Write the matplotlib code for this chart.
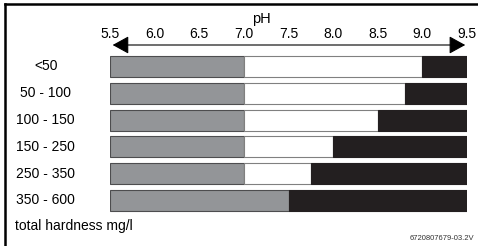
import matplotlib.pyplot as plt
import matplotlib.transforms as mtransforms
from matplotlib.lines import Line2D

plt.rcParams['font.family'] = ['Liberation Sans', 'DejaVu Sans']

# total hardness classes (top to bottom) and pH ranges
hardness = ['<50', '50 - 100', '100 - 150', '150 - 250', '250 - 350', '350 - 600']
gray_end = [7.0, 7.0, 7.0, 7.0, 7.0, 7.5]
black_start = [9.0, 8.8, 8.5, 8.0, 7.75, 7.5]
ph_min, ph_max = 5.5, 9.5
ph_ticks = [5.5, 6.0, 6.5, 7.0, 7.5, 8.0, 8.5, 9.0, 9.5]

GRAY = '#939598'
BLACK = '#231f20'

W, H = 478, 246
fig = plt.figure(figsize=(W / 100, H / 100), dpi=100)

# axes placed in pixel terms
left, right = 110, 467
top, bottom = 53.1, 213.9
ax = fig.add_axes([left / W, 1 - bottom / H, (right - left) / W, (bottom - top) / H])
ax.set_xlim(ph_min, ph_max)
ax.set_ylim(len(hardness) - 0.5, -0.5)
for s in ax.spines.values():
    s.set_visible(False)
ax.set_yticks([])

bh = 0.78
for i, name in enumerate(hardness):
    g = gray_end[i]
    b = black_start[i]
    ax.barh(i, g - ph_min, left=ph_min, height=bh, color=GRAY, edgecolor='#4d4d4f', lw=0.8)
    if b > g:
        ax.barh(i, b - g, left=g, height=bh, color='white', edgecolor='#808080', lw=0.8)
    ax.barh(i, ph_max - b, left=b, height=bh, color=BLACK, edgecolor=BLACK, lw=0.8)
    ax.text(4.78, i, name, ha='center', va='center', fontsize=10, clip_on=False)

# pH scale on top
ax.xaxis.tick_top()
ax.set_xticks(ph_ticks)
ax.set_xticklabels([f'{t:.1f}' for t in ph_ticks], fontsize=10)
ax.tick_params(axis='x', length=0, pad=8.5)

trans = mtransforms.blended_transform_factory(ax.transData, ax.transAxes)
ay = 1 + (top - 45) / (bottom - top)
ax.annotate('', xy=(ph_max - 0.02, ay), xytext=(ph_min + 0.03, ay),
            xycoords=trans, textcoords=trans, annotation_clip=False,
            arrowprops=dict(arrowstyle='<|-|>,head_length=1.0,head_width=0.55',
                            color='black', lw=0.8, shrinkA=0, shrinkB=0))
ax.text(7.2, 1 + (top - 19) / (bottom - top), 'pH', transform=trans,
        ha='center', va='center', fontsize=10.5)

fig.text(15 / W, 1 - 226 / H, 'total hardness mg/l', ha='left', va='center', fontsize=10)
fig.text(474 / W, 1 - 238 / H, '6720807679-03.2V', ha='right', va='center',
         fontsize=5.5, color='#333333')

# frame lines (top and left)
fig.add_artist(Line2D([5 / W, 1], [1 - 3.5 / H, 1 - 3.5 / H], color='black', lw=1.8,
                      transform=fig.transFigure))
fig.add_artist(Line2D([5 / W, 5 / W], [0, 1 - 3.5 / H], color='black', lw=1.8,
                      transform=fig.transFigure))

fig.savefig('out.png', dpi=100)
